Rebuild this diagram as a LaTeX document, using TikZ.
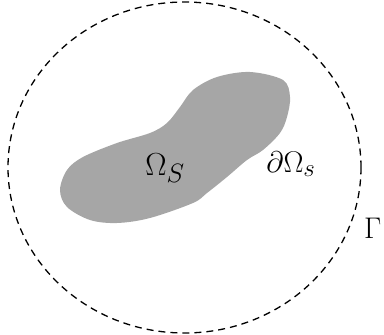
\documentclass[tikz,border=0pt]{standalone}
\usepackage{amsmath}
\usepackage{tikz}
\usetikzlibrary{positioning}

\begin{document}
\begin{tikzpicture}[x=1pt, y=1pt]
  \useasboundingbox (0,0) rectangle (384,335);
  \tikzset{
    lbl/.style={inner sep=0pt, font=\Huge},
    solid body/.style={fill=black!35, draw=none},
    far field/.style={draw, dashed, dash pattern=on 7pt off 5pt, line width=1.3pt}
  }

  % Outer boundary
  \draw[far field] (184.5,167.5) ellipse (176.5 and 165.5);

  % Solid body
  \fill[solid body] plot[smooth cycle, tension=0.55] coordinates {
    (250,263) (283,255) (290,238) (287,218) (280,202) (263,185)
    (247,175) (227,158) (207,142) (193,132) (150,117) (117,112)
    (90,115) (67,128) (60,145) (67,165) (83,178) (117,192)
    (150,202) (167,212) (180,228) (193,245) (217,258)};

  % Labels
  \node[lbl, scale=1.28] (body) at (165,167) {$\Omega_S$};
  \node[lbl, scale=1.2] (edge) at (291,171) {$\partial\Omega_s$};
  \node[lbl, anchor=west, scale=1.2] (gamma) at (364,107) {$\Gamma$};
\end{tikzpicture}
\end{document}
